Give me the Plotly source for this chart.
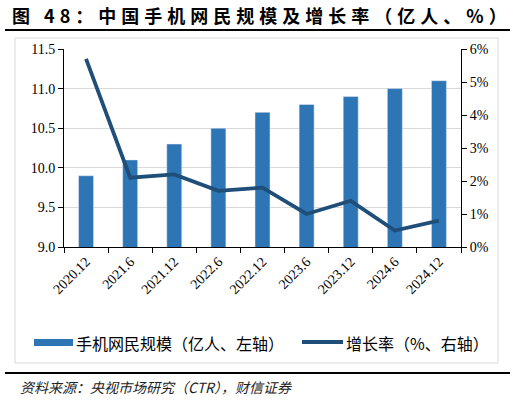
import plotly.graph_objects as go

periods = ['2020.12', '2021.6', '2021.12', '2022.6', '2022.12',
           '2023.6', '2023.12', '2024.6', '2024.12']
users = [9.9, 10.1, 10.3, 10.5, 10.7, 10.8, 10.9, 11.0, 11.1]   # 亿人
growth = [5.7, 2.1, 2.2, 1.7, 1.8, 1.0, 1.4, 0.5, 0.8]          # %

bar_color = '#2E75B6'
line_color = '#1F4E79'
serif = 'Liberation Serif'
cjk = 'Noto Sans CJK SC'

fig = go.Figure()
fig.add_trace(go.Bar(x=periods, y=users, marker_color=bar_color, width=0.34,
                     name='手机网民规模（亿人、左轴）'))
fig.add_trace(go.Scatter(x=periods, y=growth, yaxis='y2', mode='lines',
                         line=dict(color=line_color, width=3.8),
                         name='增长率（%、右轴）'))

fig.update_layout(
    width=516, height=404,
    margin=dict(l=64, r=55, t=49, b=157),
    paper_bgcolor='white', plot_bgcolor='white',
    showlegend=False,
    xaxis=dict(type='category', tickangle=-45, tickson='boundaries',
               ticks='outside', ticklen=5, tickcolor='black',
               showline=True, linecolor='black', linewidth=1,
               tickfont=dict(family=serif, size=14, color='black')),
    yaxis=dict(range=[9.0, 11.5], dtick=0.5, tickformat='.1f',
               ticks='outside', ticklen=5, tickcolor='black',
               showline=True, linecolor='black', linewidth=1,
               showgrid=True, gridcolor='#d9d9d9',
               tickfont=dict(family=serif, size=14, color='black')),
    yaxis2=dict(range=[0, 6], dtick=1, ticksuffix='%', overlaying='y', side='right',
                ticks='outside', ticklen=5, tickcolor='black',
                showline=True, linecolor='black', linewidth=1, showgrid=False,
                tickfont=dict(family=serif, size=14, color='black')),
)

shapes = [
    # title rule and bottom rule
    dict(type='line', xref='paper', yref='paper', x0=-59/397, x1=446/397,
         y0=1 + 19/198, y1=1 + 19/198, line=dict(color='black', width=2)),
    dict(type='line', xref='paper', yref='paper', x0=-59/397, x1=446/397,
         y0=-126/198, y1=-126/198, line=dict(color='black', width=2)),
    # outer frame
    dict(type='rect', xref='paper', yref='paper', x0=-49/397, x1=434/397,
         y0=-116/198, y1=1 + 11/198, line=dict(color='#d9d9d9', width=1)),
    # legend symbols
    dict(type='rect', xref='paper', yref='paper', x0=-30/397, x1=9/397,
         y0=-92/198, y1=-99/198, fillcolor=bar_color, line=dict(width=0)),
    dict(type='line', xref='paper', yref='paper', x0=238/397, x1=279/397,
         y0=-95/198, y1=-95/198, line=dict(color=line_color, width=3.8)),
]

annotations = [
    dict(text='<b><span style="letter-spacing:5px">图 48：中国手机网民规模及增长率（亿人、%）</span></b>',
         xref='paper', yref='paper', x=-54/397, y=1 + 34/198,
         xanchor='left', yanchor='middle', showarrow=False,
         font=dict(family=cjk, size=18, color='black')),
    dict(text='手机网民规模（亿人、左轴）', xref='paper', yref='paper',
         x=10/397, y=-95.5/198, xanchor='left', yanchor='middle', showarrow=False,
         font=dict(family=cjk, size=16, color='black')),
    dict(text='增长率（%、右轴）', xref='paper', yref='paper',
         x=280/397, y=-95.5/198, xanchor='left', yanchor='middle', showarrow=False,
         font=dict(family=cjk, size=16, color='black')),
    dict(text='<i>资料来源：央视市场研究（CTR），财信证券</i>', xref='paper', yref='paper',
         x=-46/397, y=-140/198, xanchor='left', yanchor='middle', showarrow=False,
         font=dict(family=cjk, size=14, color='#222222')),
]

fig.update_layout(shapes=shapes, annotations=annotations)
# drop the default page margin so the 516x404 figure fills the window
fig.write_html('out.html', config={'displayModeBar': False},
               post_script="document.body.style.margin='0';")
